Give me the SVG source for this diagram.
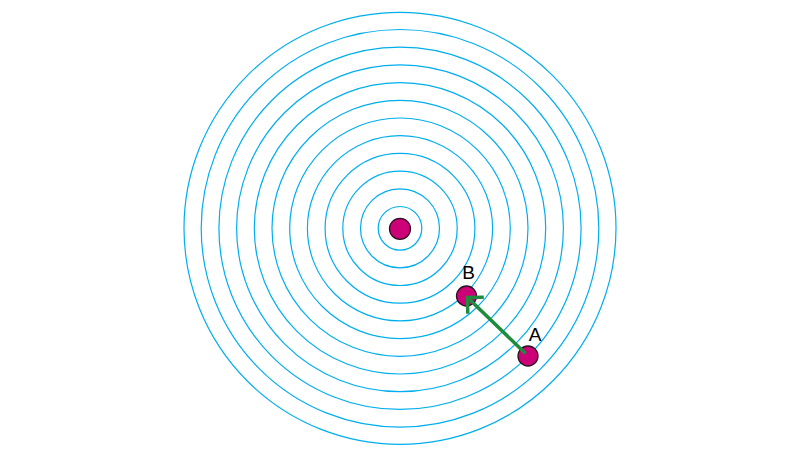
<svg xmlns="http://www.w3.org/2000/svg" width="800" height="458" viewBox="0 0 800 458">
<style>
.ring{fill:none;stroke:#00aeef;stroke-width:1.2}
.dot{fill:#cc0077;stroke:#2a1020;stroke-width:1.3}
.lbl{font-family:"Liberation Sans",Arial,sans-serif;font-size:19px;fill:#000;text-anchor:middle}
.arrow{fill:none;stroke:#1e8c3c;stroke-width:3.5}
</style>
<defs>
<marker id="head" markerUnits="userSpaceOnUse" viewBox="-16 -16 20 32" markerWidth="20" markerHeight="32" refX="0" refY="0" orient="auto">
<path d="M -11.5,-11.5 L 0,0 L -11.5,11.5" fill="none" stroke="#1e8c3c" stroke-width="3.5"/>
</marker>
</defs>
<rect width="800" height="458" fill="#fff"/>
<g id="rings">
<circle class="ring" cx="400" cy="228.3" r="21.8"/>
<circle class="ring" cx="400" cy="228.3" r="39.5"/>
<circle class="ring" cx="400" cy="228.3" r="57.2"/>
<circle class="ring" cx="400" cy="228.3" r="74.9"/>
<circle class="ring" cx="400" cy="228.3" r="92.6"/>
<circle class="ring" cx="400" cy="228.3" r="110.3"/>
<circle class="ring" cx="400" cy="228.3" r="128"/>
<circle class="ring" cx="400" cy="228.3" r="145.7"/>
<circle class="ring" cx="400" cy="228.3" r="163.4"/>
<circle class="ring" cx="400" cy="228.3" r="181.1"/>
<circle class="ring" cx="400" cy="228.3" r="198.8"/>
<circle class="ring" cx="400" cy="228.3" r="216"/>
</g>
<g id="center">
<circle class="dot" cx="400" cy="228.8" r="10.5"/>
</g>
<g id="B">
<circle class="dot" cx="466.5" cy="296" r="10"/>
<text class="lbl" x="468.5" y="278.5">B</text>
</g>
<g id="A">
<circle class="dot" cx="528" cy="356" r="10"/>
<text class="lbl" x="535" y="340.5">A</text>
</g>
<g id="connectors">
<line class="arrow" x1="525.5" y1="353.5" x2="467.5" y2="297.5" marker-end="url(#head)"/>
</g>
</svg>
